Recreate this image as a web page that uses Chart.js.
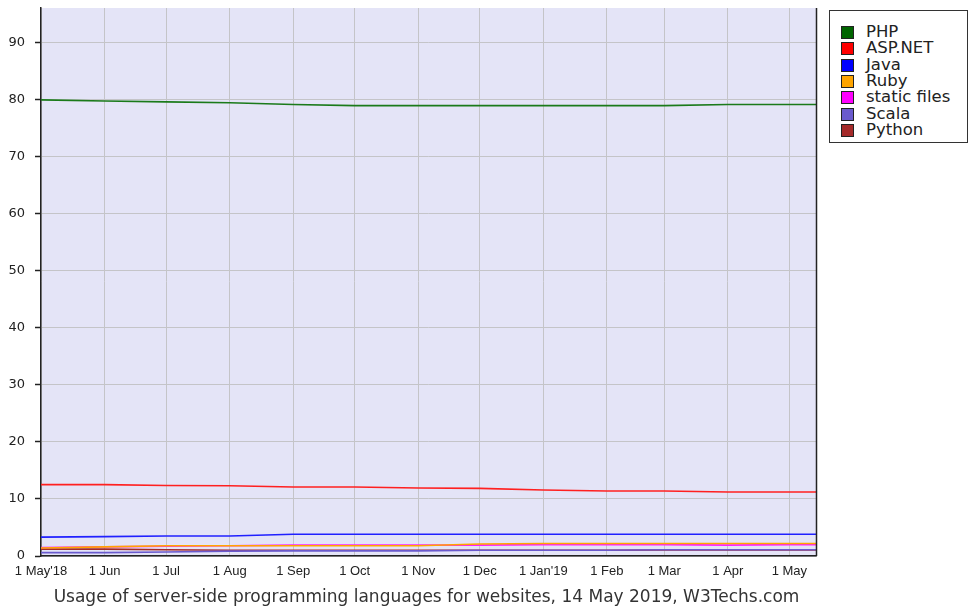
<!DOCTYPE html>
<html><head><meta charset="utf-8">
<script src="https://cdn.jsdelivr.net/npm/chart.js@4.4.1/dist/chart.umd.min.js"></script>
<style>
html,body{margin:0;padding:0;background:#fff;}
#wrap{position:relative;width:971px;height:611px;}
#legend{position:absolute;left:829px;top:10px;width:137px;height:131px;border:1px solid #333;background:#fff;
font-family:"DejaVu Sans",sans-serif;font-size:16.5px;color:#222;box-sizing:content-box;}
#legend .row{position:absolute;left:11px;height:16px;line-height:16px;white-space:nowrap;}
#legend .sw{position:absolute;left:0;top:2px;width:11px;height:11px;border:1px solid #222;}
#legend .lb{position:absolute;left:25px;top:0;}
#title{position:absolute;left:26px;width:801px;top:586px;height:20px;line-height:20px;text-align:center;
font-family:"DejaVu Sans",sans-serif;font-size:17px;color:#333;white-space:nowrap;}
</style></head>
<body><div id="wrap"><canvas id="c" width="971" height="611"></canvas><div id="legend"></div><div id="title"></div></div>
<script>
const dates = ['2018-05-01','2018-06-01','2018-07-01','2018-08-01','2018-09-01','2018-10-01','2018-11-01','2018-12-01','2019-01-01','2019-02-01','2019-03-01','2019-04-01','2019-05-01','2019-05-14'];
const tickDates = ['2018-05-01','2018-06-01','2018-07-01','2018-08-01','2018-09-01','2018-10-01','2018-11-01','2018-12-01','2019-01-01','2019-02-01','2019-03-01','2019-04-01','2019-05-01'];
const tickLabels = ["1 May'18","1 Jun","1 Jul","1 Aug","1 Sep","1 Oct","1 Nov","1 Dec","1 Jan'19","1 Feb","1 Mar","1 Apr","1 May"];
const seriesNames = ['PHP','ASP.NET','Java','Ruby','static files','Scala','Python'];
const seriesColors = ['#006400','#ff0000','#0000ff','#ffa500','#ff00ff','#6a5acd','#a52a2a'];
const lineColors   = ['#1a7a1a','#ff2020','#2020ff','#ffa500','#ff20ff','#6a5acd','#a52a2a'];
const php        = [79.9,79.7,79.55,79.4,79.1,78.9,78.9,78.9,78.9,78.9,78.9,79.1,79.1,79.1];
const aspnet     = [12.5,12.5,12.35,12.3,12.1,12.1,11.9,11.85,11.55,11.4,11.4,11.2,11.2,11.2];
const java       = [3.3,3.4,3.5,3.5,3.8,3.8,3.8,3.8,3.8,3.8,3.8,3.8,3.8,3.8];
const ruby       = [1.4,1.6,1.8,1.8,1.8,1.8,1.8,2.1,2.2,2.2,2.2,2.2,2.2,2.2];
const staticFiles= [1.5,1.6,1.7,1.8,1.9,1.9,1.9,1.9,2.0,2.0,2.0,1.9,2.0,2.0];
const scala      = [0.6,0.6,0.7,0.85,0.9,0.9,0.9,1.0,1.0,1.0,1.1,1.1,1.1,1.1];
const python     = [1.2,1.2,1.1,1.0,1.0,1.0,1.0,1.0,1.0,1.0,1.05,1.05,1.05,1.05];
const allSeries = [php,aspnet,java,ruby,staticFiles,scala,python];
const yTicks = [0,10,20,30,40,50,60,70,80,90];
const titleText = 'Usage of server-side programming languages for websites, 14 May 2019, W3Techs.com';

const DAY = 86400000;
const t0 = Date.parse(dates[0]+'T00:00:00Z');
const dayOf = s => Math.round((Date.parse(s+'T00:00:00Z')-t0)/DAY);
const xs = dates.map(dayOf);
const tickXs = tickDates.map(dayOf);

document.getElementById('title').textContent = titleText;
const lg = document.getElementById('legend');
seriesNames.forEach((n,i)=>{
  const r=document.createElement('div');r.className='row';r.style.top=(13+i*16.3)+'px';
  r.innerHTML='<span class="sw" style="background:'+seriesColors[i]+'"></span><span class="lb">'+n+'</span>';
  lg.appendChild(r);
});

const bgPlugin = {
  id:'bg',
  beforeDraw(chart){const a=chart.chartArea,ctx=chart.ctx;ctx.save();ctx.fillStyle='#e4e4f7';ctx.fillRect(a.left,a.top,a.right-a.left,a.bottom-a.top);ctx.restore();},
  afterDraw(chart){const a=chart.chartArea,ctx=chart.ctx;ctx.save();ctx.strokeStyle='#222';ctx.lineWidth=1.5;ctx.beginPath();ctx.moveTo(a.right+0.5,a.top);ctx.lineTo(a.right+0.5,a.bottom);ctx.stroke();ctx.restore();}
};
const zeroPad = s => { s.paddingTop = 0; s.paddingBottom = 0; s.paddingLeft = 0; s.paddingRight = 0; };

const chart = new Chart(document.getElementById('c'),{
  type:'line',
  data:{datasets:seriesNames.map((n,i)=>({label:n,data:xs.map((x,j)=>({x:x,y:allSeries[i][j]})),borderColor:lineColors[i],backgroundColor:seriesColors[i],borderWidth:1.6,pointRadius:0,tension:0,fill:false}))},
  options:{
    responsive:false,animation:false,
    layout:{autoPadding:false,padding:{top:8,right:155,left:0,bottom:33}},
    plugins:{legend:{display:false},tooltip:{enabled:false},title:{display:false}},
    scales:{
      x:{type:'linear',min:xs[0],max:xs[xs.length-1],
        afterBuildTicks(s){s.ticks=tickXs.map(v=>({value:v}));},
        afterFit(s){s.height=22;zeroPad(s);},
        ticks:{autoSkip:false,maxRotation:0,padding:8,color:'#222',font:{family:'Liberation Sans',size:13},callback:(v,i)=>tickLabels[i]},
        grid:{color:'#c4c4c8',lineWidth:1,drawTicks:false},
        border:{color:'#222',width:1.5}},
      y:{min:0,max:96,
        afterBuildTicks(s){s.ticks=yTicks.map(v=>({value:v}));},
        afterFit(s){s.width=41;zeroPad(s);},
        ticks:{padding:10,color:'#222',font:{family:'DejaVu Sans',size:13}},
        grid:{color:'#c4c4c8',lineWidth:1,tickColor:'#222',tickLength:6,tickWidth:1.5},
        border:{color:'#222',width:1.5}}
    }
  },
  plugins:[bgPlugin]
});
</script></body></html>
